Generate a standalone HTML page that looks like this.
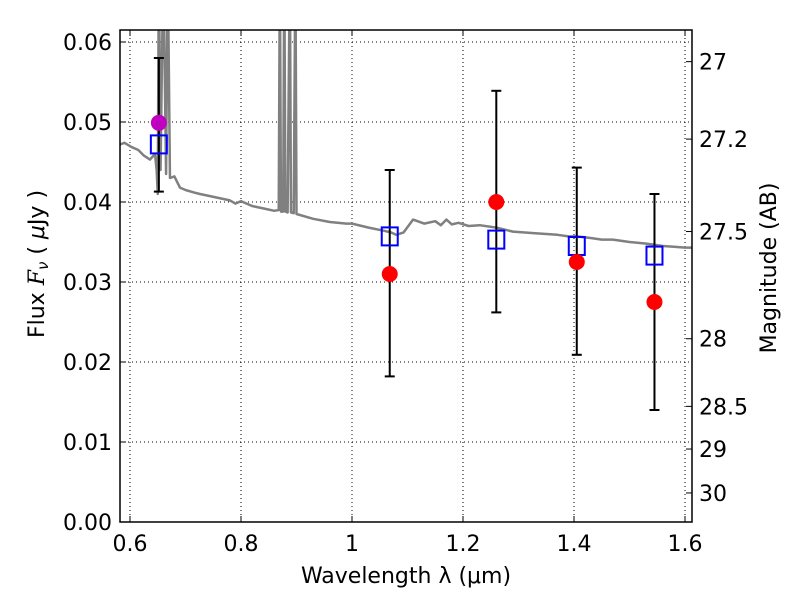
<!DOCTYPE html>
<html><head><meta charset="utf-8"><style>body{margin:0;background:#fff}svg{font-family:"DejaVu Sans","Liberation Sans",sans-serif}</style></head>
<body>
<svg id="c" width="800" height="600"></svg>
<script>
const specX=[0.582,0.59,0.602,0.615,0.625,0.636,0.645,0.648,0.65,0.652,0.655,0.66,0.665,0.668,0.672,0.68,0.69,0.70,0.715,0.726,0.74,0.76,0.78,0.79,0.80,0.82,0.84,0.86,0.868,0.87,0.872,0.876,0.878,0.88,0.884,0.888,0.89,0.895,0.898,0.9,0.93,0.96,0.99,1.0,1.03,1.058,1.07,1.08,1.093,1.11,1.13,1.15,1.16,1.17,1.18,1.192,1.21,1.23,1.26,1.29,1.33,1.37,1.39,1.405,1.43,1.45,1.47,1.5,1.53,1.56,1.58,1.6,1.613];
const specY=[0.0472,0.0474,0.0469,0.0465,0.0458,0.0453,0.046,0.044,0.041,0.07,0.044,0.07,0.0435,0.07,0.043,0.0432,0.0418,0.0415,0.0412,0.041,0.0408,0.0405,0.0402,0.0398,0.0401,0.0395,0.0392,0.0389,0.039,0.07,0.0388,0.0388,0.07,0.0388,0.0387,0.07,0.0387,0.0386,0.07,0.0385,0.0379,0.0375,0.0373,0.0373,0.0368,0.0364,0.0362,0.0359,0.0362,0.0378,0.0373,0.0376,0.0371,0.0378,0.0372,0.0374,0.0370,0.0371,0.0368,0.0363,0.0361,0.0359,0.0357,0.0357,0.0355,0.0353,0.0353,0.035,0.0348,0.0345,0.0344,0.0343,0.0343];
const modelX=[0.652,1.068,1.260,1.405,1.545];
const modelY=[0.0472,0.0357,0.0353,0.0345,0.0333];
const obsX=[1.068,1.260,1.405,1.545];
const obsY=[0.031,0.040,0.0325,0.0275];
const obsLo=[0.0182,0.0262,0.0209,0.014];
const obsHi=[0.044,0.0539,0.0443,0.041];
const magX=[0.652], magY=[0.0499], magLo=[0.0413], magHi=[0.058];
const xTicks=[0.6,0.8,1.0,1.2,1.4,1.6], xLabels=["0.6","0.8","1","1.2","1.4","1.6"];
const yTicks=[0,0.01,0.02,0.03,0.04,0.05,0.06];
const magTicks=[27,27.2,27.5,28,28.5,29,30];

const L=120,R=692,T=30,B=522;
const X=v=>130+(v-0.6)*555, Y=v=>522-v*8000;
const magY2=m=>Y(Math.pow(10,(23.9-m)/2.5));
const s=document.getElementById('c'),NS='http://www.w3.org/2000/svg';
function el(t,a,txt){const e=document.createElementNS(NS,t);for(const k in a)e.setAttribute(k,a[k]);if(txt!=null)e.textContent=txt;s.appendChild(e);return e;}
const cp=document.createElementNS(NS,'clipPath');cp.setAttribute('id','pc');const cr=document.createElementNS(NS,'rect');
cr.setAttribute('x',L);cr.setAttribute('y',T);cr.setAttribute('width',R-L);cr.setAttribute('height',B-T);cp.appendChild(cr);s.appendChild(cp);
xTicks.forEach((v,i)=>{const x=X(v);
 let g=el('line',{x1:x,x2:x,y1:T,y2:B,stroke:'#000','stroke-dasharray':'1,3','stroke-width':1});
 
 el('line',{x1:x,x2:x,y1:B,y2:B-6,stroke:'#000'});el('line',{x1:x,x2:x,y1:T,y2:T+6,stroke:'#000'});
 let t=el('text',{x:x,y:551,'font-size':22,'text-anchor':'middle'},xLabels[i]);
 });
yTicks.forEach(v=>{const y=Y(v);
 let g=el('line',{x1:L,x2:R,y1:y,y2:y,stroke:'#000','stroke-dasharray':'1,3','stroke-width':1});
 
 el('line',{x1:L,x2:L+6,y1:y,y2:y,stroke:'#000'});
 let t=el('text',{x:112,y:y+8,'font-size':22,'text-anchor':'end'},v.toFixed(2));
 });
magTicks.forEach(m=>{const y=magY2(m);
 el('line',{x1:R,x2:R-6,y1:y,y2:y,stroke:'#000'});
 let t=el('text',{x:699,y:y+8,'font-size':22},String(m));
 });
let sp=el('polyline',{points:specX.map((v,i)=>X(v)+','+Y(specY[i])).join(' '),fill:'none',stroke:'#808080','stroke-width':2.5,'clip-path':'url(#pc)','stroke-linejoin':'round'});

function errbar(x,lo,hi){const px=X(x);el('line',{x1:px,x2:px,y1:Y(lo),y2:Y(hi),stroke:'#000','stroke-width':2});
 el('line',{x1:px-5,x2:px+5,y1:Y(lo),y2:Y(lo),stroke:'#000','stroke-width':2});el('line',{x1:px-5,x2:px+5,y1:Y(hi),y2:Y(hi),stroke:'#000','stroke-width':2});}
magX.forEach((v,i)=>errbar(v,magLo[i],magHi[i]));
obsX.forEach((v,i)=>errbar(v,obsLo[i],obsHi[i]));
magX.forEach((v,i)=>{let c=el('circle',{cx:X(v),cy:Y(magY[i]),r:8,fill:'#bf00bf'});});
modelX.forEach((v,i)=>{let r=el('rect',{x:X(v)-8,y:Y(modelY[i])-9,width:16,height:18,fill:'none',stroke:'#0000ff','stroke-width':2});});
obsX.forEach((v,i)=>{let c=el('circle',{cx:X(v),cy:Y(obsY[i]),r:8,fill:'#ff0000'});});
let fr=el('rect',{x:L,y:T,width:R-L,height:B-T,fill:'none',stroke:'#000','stroke-width':1.5});
let xt=el('text',{x:406,y:583,'font-size':22,'text-anchor':'middle','xml:space':'preserve'},'Wavelength  λ (μm)');
let yt=el('text',{x:0,y:0,'font-size':22,'text-anchor':'middle',transform:'translate(44,264) rotate(-90)'});
yt.innerHTML='Flux  <tspan font-style="italic" font-family="DejaVu Serif, serif">F</tspan><tspan font-style="italic" font-size="15" dy="4">ν</tspan><tspan dy="-4">  (  </tspan><tspan font-style="italic">μ</tspan><tspan>Jy )</tspan>';

let rt=el('text',{x:0,y:0,'font-size':22,'text-anchor':'middle',transform:'translate(776,268) rotate(-90)'},'Magnitude (AB)');
</script>
</body></html>
